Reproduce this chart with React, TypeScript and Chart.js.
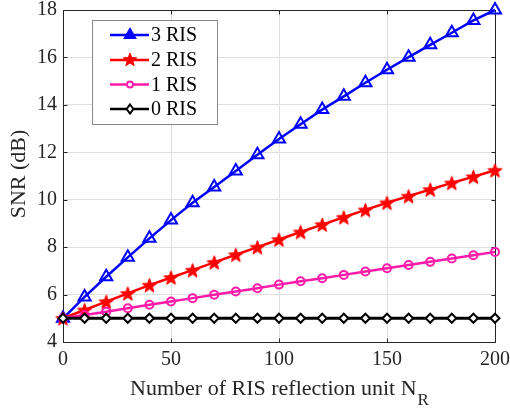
import React, { useEffect, useRef } from "react";
import { Chart, registerables } from "chart.js";
Chart.register(...registerables);

const nr = [0, 10, 20, 30, 40, 50, 60, 70, 80, 90, 100, 110, 120, 130, 140, 150, 160, 170, 180, 190, 200];
const ris3 = [5.0, 5.9, 6.75, 7.57, 8.37, 9.14, 9.87, 10.54, 11.21, 11.9, 12.56, 13.18, 13.8, 14.36, 14.93, 15.48, 16.01, 16.53, 17.04, 17.56, 18.0];
const ris2 = [5.0, 5.35, 5.7, 6.05, 6.4, 6.72, 7.03, 7.36, 7.68, 8.0, 8.32, 8.64, 8.95, 9.26, 9.57, 9.87, 10.15, 10.43, 10.71, 10.97, 11.24];
const ris1 = [5.0, 5.14, 5.28, 5.42, 5.57, 5.71, 5.85, 5.99, 6.13, 6.27, 6.42, 6.56, 6.69, 6.83, 6.97, 7.11, 7.25, 7.38, 7.52, 7.66, 7.8];
const ris0 = [5.0, 5.0, 5.0, 5.0, 5.0, 5.0, 5.0, 5.0, 5.0, 5.0, 5.0, 5.0, 5.0, 5.0, 5.0, 5.0, 5.0, 5.0, 5.0, 5.0, 5.0];
const seriesLabels = ["3 RIS", "2 RIS", "1 RIS", "0 RIS"];
const xTicks = [0, 50, 100, 150, 200];
const yTicks = [4, 6, 8, 10, 12, 14, 16, 18];

const BLUE = "#0000ff";
const RED = "#ff0000";
const MAG = "#ff1aa8";
const BLACK = "#000000";
const FONT = "'Liberation Serif', 'Times New Roman', serif";
const TXT = "#262626";

function starPath(ctx: CanvasRenderingContext2D, cx: number, cy: number, R: number) {
  const r = R * 0.42;
  ctx.beginPath();
  for (let i = 0; i < 10; i++) {
    const a = -Math.PI / 2 + (i * Math.PI) / 5;
    const rr = i % 2 === 0 ? R : r;
    const px = cx + rr * Math.cos(a);
    const py = cy + rr * Math.sin(a);
    if (i === 0) ctx.moveTo(px, py);
    else ctx.lineTo(px, py);
  }
  ctx.closePath();
}

function makeStar(R: number, color: string) {
  const c = document.createElement("canvas");
  const s = Math.ceil(R * 2 + 4);
  c.width = s;
  c.height = s;
  const ctx = c.getContext("2d")!;
  starPath(ctx, s / 2, s / 2 + 0.8, R);
  ctx.fillStyle = color;
  ctx.fill();
  ctx.strokeStyle = color;
  ctx.lineWidth = 1;
  ctx.stroke();
  return c;
}

function drawMarker(ctx: CanvasRenderingContext2D, kind: string, x: number, y: number, color: string) {
  ctx.save();
  ctx.strokeStyle = color;
  ctx.fillStyle = color;
  ctx.lineWidth = 2;
  if (kind === "tri") {
    const r = 6;
    ctx.beginPath();
    for (let i = 0; i < 3; i++) {
      const a = -Math.PI / 2 + (i * 2 * Math.PI) / 3;
      const px = x + r * Math.cos(a);
      const py = y + r * Math.sin(a);
      if (i === 0) ctx.moveTo(px, py);
      else ctx.lineTo(px, py);
    }
    ctx.closePath();
    ctx.fill();
    ctx.stroke();
  } else if (kind === "star") {
    starPath(ctx, x, y, 7);
    ctx.lineWidth = 1;
    ctx.fill();
    ctx.stroke();
  } else if (kind === "circle") {
    ctx.beginPath();
    ctx.arc(x, y, 3, 0, Math.PI * 2);
    ctx.fillStyle = "#fff";
    ctx.fill();
    ctx.stroke();
  } else {
    const r = 4.5;
    ctx.beginPath();
    ctx.moveTo(x, y - r);
    ctx.lineTo(x + r * 0.75, y);
    ctx.lineTo(x, y + r);
    ctx.lineTo(x - r * 0.75, y);
    ctx.closePath();
    ctx.fillStyle = "#fff";
    ctx.fill();
    ctx.stroke();
  }
  ctx.restore();
}

export default function App() {
  const ref = useRef<HTMLCanvasElement>(null);
  useEffect(() => {
    document.body.style.margin = "0";
    const star = makeStar(7.5, RED);
    const toPts = (arr: number[]) => nr.map((x, i) => ({ x, y: arr[i] }));

    const framePlugin = {
      id: "frame",
      beforeDatasetsDraw(chart: any) {
        const { ctx, chartArea: a } = chart;
        const xs = chart.scales.x;
        const ys = chart.scales.y;
        ctx.save();
        ctx.strokeStyle = TXT;
        ctx.lineWidth = 1;
        ctx.beginPath();
        const L = Math.round(a.left) + 0.5;
        const R = Math.round(a.right) + 0.5;
        const T = Math.round(a.top) + 0.5;
        const B = Math.round(a.bottom) + 0.5;
        ctx.rect(L, T, R - L, B - T);
        const tl = 4;
        for (const v of xTicks) {
          const px = Math.round(xs.getPixelForValue(v)) + 0.5;
          ctx.moveTo(px, B);
          ctx.lineTo(px, B - tl);
          ctx.moveTo(px, T);
          ctx.lineTo(px, T + tl);
        }
        for (const v of yTicks) {
          const py = Math.round(ys.getPixelForValue(v)) + 0.5;
          ctx.moveTo(L, py);
          ctx.lineTo(L + tl, py);
          ctx.moveTo(R, py);
          ctx.lineTo(R - tl, py);
        }
        ctx.stroke();
        ctx.restore();
      },
    };

    const legendPlugin = {
      id: "customLegend",
      afterDatasetsDraw(chart: any) {
        const ctx = chart.ctx as CanvasRenderingContext2D;
        const bx = 92.5, by = 20.5, bw = 125, bh = 104;
        ctx.save();
        ctx.fillStyle = "#fff";
        ctx.fillRect(bx, by, bw, bh);
        ctx.strokeStyle = "#888";
        ctx.lineWidth = 1;
        ctx.strokeRect(bx, by, bw, bh);
        const colors = [BLUE, RED, MAG, BLACK];
        const kinds = ["tri", "star", "circle", "diamond"];
        const rowY = [35, 60, 84.5, 109];
        ctx.font = `20px ${FONT}`;
        ctx.textBaseline = "middle";
        ctx.textAlign = "left";
        for (let i = 0; i < 4; i++) {
          ctx.strokeStyle = colors[i];
          ctx.lineWidth = 2.5;
          ctx.beginPath();
          ctx.moveTo(110, rowY[i]);
          ctx.lineTo(149, rowY[i]);
          ctx.stroke();
          drawMarker(ctx, kinds[i], 130, rowY[i], colors[i]);
          ctx.fillStyle = "#000";
          ctx.fillText(seriesLabels[i], 151, rowY[i] + 1);
        }
        ctx.restore();
      },
    };

    const titlePlugin = {
      id: "axisTitles",
      afterDraw(chart: any) {
        const ctx = chart.ctx as CanvasRenderingContext2D;
        const a = chart.chartArea;
        ctx.save();
        ctx.fillStyle = TXT;
        ctx.textBaseline = "alphabetic";
        ctx.textAlign = "left";
        const main = "Number of RIS reflection unit N";
        ctx.font = `22px ${FONT}`;
        const w1 = ctx.measureText(main).width;
        ctx.font = `17px ${FONT}`;
        const w2 = ctx.measureText("R").width;
        const cx = (a.left + a.right) / 2;
        const sx = cx - (w1 + w2) / 2;
        ctx.font = `22px ${FONT}`;
        ctx.fillText(main, sx, 395);
        ctx.font = `17px ${FONT}`;
        ctx.fillText("R", sx + w1 + 1, 405);
        ctx.translate(25, 174);
        ctx.rotate(-Math.PI / 2);
        ctx.textAlign = "center";
        ctx.font = `22px ${FONT}`;
        ctx.fillText("SNR (dB)", 0, 0);
        ctx.restore();
      },
    };

    const zeroPad = (s: any) => {
      s.paddingTop = 0;
      s.paddingBottom = 0;
      s.paddingLeft = 0;
      s.paddingRight = 0;
    };

    const chart = new Chart(ref.current!, {
      type: "line",
      data: {
        datasets: [
          {
            label: seriesLabels[0],
            data: toPts(ris3),
            borderColor: BLUE,
            backgroundColor: "rgba(0,0,0,0)",
            borderWidth: 2.5,
            pointStyle: "triangle",
            pointRadius: 7,
            pointBorderWidth: 2,
            pointBorderColor: BLUE,
            pointBackgroundColor: "rgba(0,0,0,0)",
            order: 3,
            clip: false,
          },
          {
            label: seriesLabels[1],
            data: toPts(ris2),
            borderColor: RED,
            backgroundColor: RED,
            borderWidth: 2.5,
            pointStyle: star as any,
            pointRadius: 7,
            order: 2,
            clip: false,
          },
          {
            label: seriesLabels[2],
            data: toPts(ris1),
            borderColor: MAG,
            backgroundColor: "rgba(0,0,0,0)",
            borderWidth: 2.5,
            pointStyle: "circle",
            pointRadius: 4,
            pointBorderWidth: 2,
            pointBorderColor: MAG,
            pointBackgroundColor: "rgba(0,0,0,0)",
            order: 1,
            clip: false,
          },
          {
            label: seriesLabels[3],
            data: toPts(ris0),
            borderColor: BLACK,
            backgroundColor: "rgba(0,0,0,0)",
            borderWidth: 3,
            pointStyle: "rectRot",
            pointRadius: 4.5,
            pointBorderWidth: 2,
            pointBorderColor: BLACK,
            pointBackgroundColor: "#fff",
            order: 0,
            clip: false,
          },
        ] as any,
      },
      options: {
        responsive: false,
        animation: false,
        layout: { padding: { top: 10, right: 15, left: 0, bottom: 0 } },
        scales: {
          x: {
            type: "linear",
            min: 0,
            max: 200,
            ticks: { stepSize: 50, color: TXT, font: { family: FONT, size: 20 }, padding: 6, maxRotation: 0 },
            grid: { color: "#e0e0e0", drawTicks: false },
            border: { display: false },
            afterFit: (s: any) => {
              s.height = 66;
              zeroPad(s);
            },
          },
          y: {
            type: "linear",
            min: 4,
            max: 18,
            ticks: { stepSize: 2, color: TXT, font: { family: FONT, size: 20 }, padding: 6 },
            grid: { color: "#e0e0e0", drawTicks: false },
            border: { display: false },
            afterFit: (s: any) => {
              s.width = 63;
              zeroPad(s);
            },
          },
        },
        plugins: { legend: { display: false }, tooltip: { enabled: false } },
      } as any,
      plugins: [framePlugin, legendPlugin, titlePlugin],
    });
    return () => chart.destroy();
  }, []);
  return (
    <div style={{ width: 510, height: 408 }}>
      <canvas ref={ref} width={510} height={408} style={{ display: "block" }} />
    </div>
  );
}
